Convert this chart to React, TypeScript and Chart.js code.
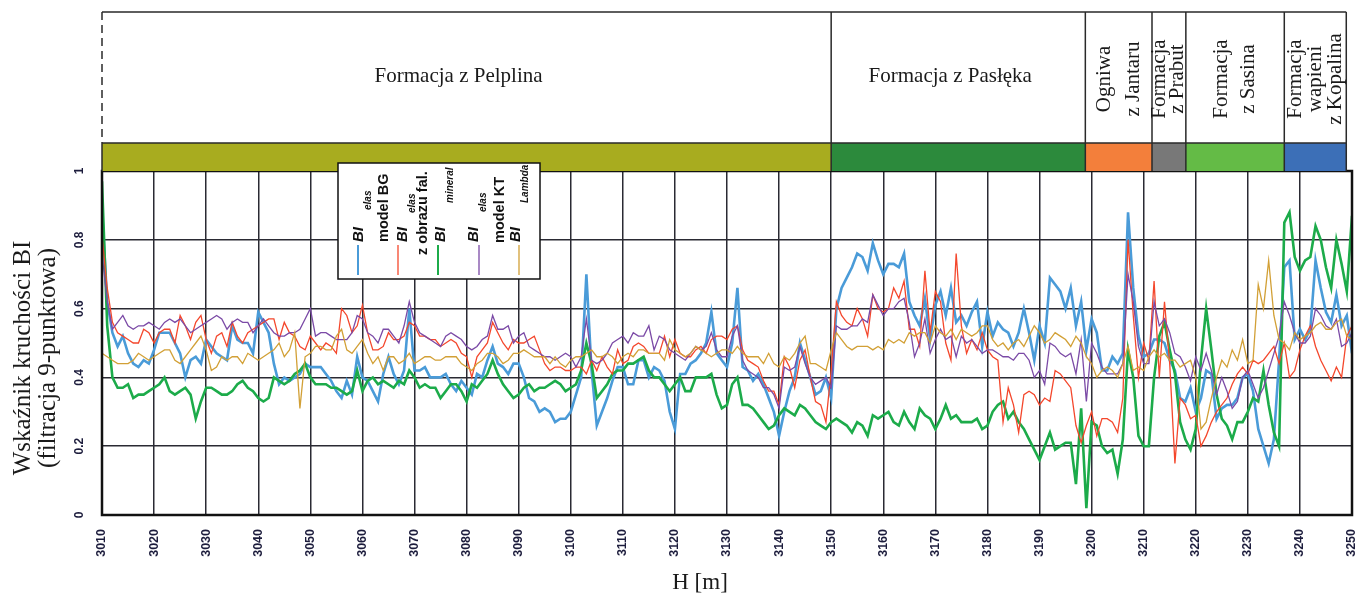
import React, { useEffect, useRef } from 'react';
import { Chart, registerables } from 'chart.js';

Chart.register(...registerables);

// ---------- DATA ----------
const depths = [
  3010, 3011, 3012, 3013, 3014, 3015, 3016, 3017, 3018, 3019,
  3020, 3021, 3022, 3023, 3024, 3025, 3026, 3027, 3028, 3029,
  3030, 3031, 3032, 3033, 3034, 3035, 3036, 3037, 3038, 3039,
  3040, 3041, 3042, 3043, 3044, 3045, 3046, 3047, 3048, 3049,
  3050, 3051, 3052, 3053, 3054, 3055, 3056, 3057, 3058, 3059,
  3060, 3061, 3062, 3063, 3064, 3065, 3066, 3067, 3068, 3069,
  3070, 3071, 3072, 3073, 3074, 3075, 3076, 3077, 3078, 3079,
  3080, 3081, 3082, 3083, 3084, 3085, 3086, 3087, 3088, 3089,
  3090, 3091, 3092, 3093, 3094, 3095, 3096, 3097, 3098, 3099,
  3100, 3101, 3102, 3103, 3104, 3105, 3106, 3107, 3108, 3109,
  3110, 3111, 3112, 3113, 3114, 3115, 3116, 3117, 3118, 3119,
  3120, 3121, 3122, 3123, 3124, 3125, 3126, 3127, 3128, 3129,
  3130, 3131, 3132, 3133, 3134, 3135, 3136, 3137, 3138, 3139,
  3140, 3141, 3142, 3143, 3144, 3145, 3146, 3147, 3148, 3149,
  3150, 3151, 3152, 3153, 3154, 3155, 3156, 3157, 3158, 3159,
  3160, 3161, 3162, 3163, 3164, 3165, 3166, 3167, 3168, 3169,
  3170, 3171, 3172, 3173, 3174, 3175, 3176, 3177, 3178, 3179,
  3180, 3181, 3182, 3183, 3184, 3185, 3186, 3187, 3188, 3189,
  3190, 3191, 3192, 3193, 3194, 3195, 3196, 3197, 3198, 3199,
  3200, 3201, 3202, 3203, 3204, 3205, 3206, 3207, 3208, 3209,
  3210, 3211, 3212, 3213, 3214, 3215, 3216, 3217, 3218, 3219,
  3220, 3221, 3222, 3223, 3224, 3225, 3226, 3227, 3228, 3229,
  3230, 3231, 3232, 3233, 3234, 3235, 3236, 3237, 3238, 3239,
  3240, 3241, 3242, 3243, 3244, 3245, 3246, 3247, 3248, 3249,
  3250,
];

const biElasModelBG = [
  0.89, 0.62, 0.53, 0.49, 0.52, 0.47, 0.44, 0.43, 0.45, 0.44,
  0.48, 0.53, 0.53, 0.53, 0.50, 0.47, 0.40, 0.45, 0.46, 0.44,
  0.51, 0.49, 0.47, 0.46, 0.45, 0.55, 0.51, 0.50, 0.50, 0.47,
  0.59, 0.56, 0.53, 0.44, 0.38, 0.40, 0.39, 0.40, 0.41, 0.44,
  0.43, 0.43, 0.43, 0.41, 0.39, 0.36, 0.34, 0.39, 0.35, 0.46,
  0.40, 0.39, 0.36, 0.33, 0.41, 0.46, 0.41, 0.38, 0.42, 0.60,
  0.42, 0.42, 0.43, 0.40, 0.40, 0.40, 0.41, 0.38, 0.36, 0.39,
  0.37, 0.35, 0.41, 0.40, 0.45, 0.49, 0.44, 0.43, 0.41, 0.44,
  0.44, 0.40, 0.34, 0.33, 0.30, 0.31, 0.30, 0.27, 0.28, 0.28,
  0.30, 0.35, 0.40, 0.70, 0.42, 0.26, 0.30, 0.34, 0.39, 0.43,
  0.43, 0.38, 0.38, 0.45, 0.45, 0.40, 0.43, 0.42, 0.39, 0.30,
  0.25, 0.41, 0.41, 0.44, 0.45, 0.47, 0.50, 0.59, 0.47, 0.45,
  0.43, 0.50, 0.66, 0.43, 0.42, 0.39, 0.41, 0.38, 0.34, 0.30,
  0.23, 0.30, 0.36, 0.40, 0.50, 0.45, 0.40, 0.35, 0.36, 0.40,
  0.34, 0.60, 0.66, 0.69, 0.72, 0.76, 0.75, 0.71, 0.79, 0.74,
  0.70, 0.73, 0.73, 0.72, 0.76, 0.62, 0.58, 0.55, 0.63, 0.51,
  0.61, 0.65, 0.58, 0.66, 0.56, 0.58, 0.55, 0.59, 0.62, 0.49,
  0.59, 0.52, 0.56, 0.54, 0.53, 0.49, 0.53, 0.60, 0.53, 0.45,
  0.55, 0.50, 0.69, 0.67, 0.65, 0.60, 0.66, 0.55, 0.62, 0.48,
  0.57, 0.53, 0.42, 0.42, 0.46, 0.44, 0.47, 0.88, 0.66, 0.52,
  0.46, 0.47, 0.51, 0.51, 0.50, 0.45, 0.42, 0.34, 0.33, 0.37,
  0.30, 0.34, 0.42, 0.41, 0.28, 0.31, 0.32, 0.32, 0.34, 0.40,
  0.41, 0.36, 0.25, 0.20, 0.15, 0.22, 0.45, 0.72, 0.74, 0.51,
  0.54, 0.51, 0.54, 0.74, 0.66, 0.59, 0.56, 0.64, 0.55, 0.58,
  0.47,
];

const biElasObrazFal = [
  0.81, 0.66, 0.56, 0.53, 0.52, 0.51, 0.50, 0.50, 0.54, 0.53,
  0.50, 0.53, 0.54, 0.54, 0.50, 0.58, 0.55, 0.51, 0.56, 0.58,
  0.51, 0.47, 0.52, 0.53, 0.49, 0.56, 0.52, 0.50, 0.53, 0.54,
  0.55, 0.56, 0.57, 0.57, 0.51, 0.56, 0.53, 0.52, 0.49, 0.48,
  0.52, 0.50, 0.48, 0.50, 0.49, 0.47, 0.60, 0.58, 0.53, 0.55,
  0.61, 0.53, 0.48, 0.48, 0.49, 0.53, 0.51, 0.51, 0.52, 0.56,
  0.55, 0.52, 0.52, 0.51, 0.51, 0.49, 0.50, 0.51, 0.50, 0.47,
  0.46, 0.40, 0.46, 0.48, 0.50, 0.56, 0.53, 0.50, 0.48, 0.51,
  0.50, 0.50, 0.51, 0.52, 0.48, 0.44, 0.42, 0.43, 0.43, 0.42,
  0.42, 0.43, 0.43, 0.41, 0.45, 0.42, 0.46, 0.43, 0.41, 0.48,
  0.44, 0.45, 0.49, 0.50, 0.49, 0.47, 0.47, 0.47, 0.52, 0.46,
  0.51, 0.47, 0.46, 0.46, 0.48, 0.49, 0.47, 0.51, 0.52, 0.52,
  0.51, 0.54, 0.55, 0.48, 0.45, 0.44, 0.43, 0.39, 0.36, 0.36,
  0.32, 0.46, 0.43, 0.37, 0.45, 0.48, 0.40, 0.33, 0.32, 0.27,
  0.42, 0.62, 0.58, 0.56, 0.55, 0.60, 0.57, 0.52, 0.64, 0.60,
  0.59, 0.60, 0.66, 0.63, 0.68, 0.54, 0.54, 0.49, 0.71, 0.53,
  0.65, 0.62, 0.50, 0.45, 0.76, 0.55, 0.47, 0.51, 0.48, 0.53,
  0.48, 0.46, 0.45, 0.27, 0.37, 0.32, 0.24, 0.35, 0.36, 0.35,
  0.32, 0.34, 0.33, 0.42, 0.41, 0.39, 0.37, 0.26, 0.21, 0.26,
  0.30, 0.23, 0.28, 0.28, 0.27, 0.24, 0.34, 0.80, 0.58, 0.40,
  0.50, 0.45, 0.68, 0.40, 0.62, 0.44, 0.15, 0.34, 0.32, 0.28,
  0.29, 0.20, 0.23, 0.27, 0.30, 0.32, 0.34, 0.38, 0.41, 0.43,
  0.41, 0.45, 0.44, 0.45, 0.47, 0.49, 0.44, 0.50, 0.40, 0.42,
  0.48, 0.52, 0.55, 0.49, 0.45, 0.42, 0.39, 0.43, 0.40, 0.52,
  0.55,
];

const biMineral = [
  0.97, 0.55, 0.40, 0.37, 0.37, 0.38, 0.34, 0.35, 0.35, 0.36,
  0.37, 0.38, 0.40, 0.36, 0.35, 0.36, 0.37, 0.35, 0.28, 0.33,
  0.37, 0.37, 0.36, 0.35, 0.35, 0.36, 0.38, 0.39, 0.37, 0.36,
  0.34, 0.33, 0.34, 0.40, 0.39, 0.38, 0.39, 0.41, 0.42, 0.44,
  0.40, 0.38, 0.38, 0.38, 0.37, 0.37, 0.36, 0.35, 0.36, 0.42,
  0.36, 0.39, 0.40, 0.38, 0.39, 0.38, 0.37, 0.39, 0.38, 0.42,
  0.40, 0.37, 0.38, 0.37, 0.37, 0.34, 0.36, 0.38, 0.38, 0.36,
  0.33, 0.38, 0.37, 0.39, 0.41, 0.45, 0.41, 0.38, 0.36, 0.34,
  0.35, 0.37, 0.38, 0.36, 0.37, 0.37, 0.38, 0.39, 0.38, 0.36,
  0.37, 0.38, 0.42, 0.50, 0.44, 0.34, 0.36, 0.38, 0.41, 0.42,
  0.42, 0.44, 0.44, 0.45, 0.46, 0.42, 0.40, 0.40, 0.38, 0.36,
  0.38, 0.40, 0.36, 0.36, 0.40, 0.40, 0.40, 0.41, 0.35, 0.31,
  0.32, 0.38, 0.40, 0.32, 0.32, 0.31, 0.29, 0.27, 0.25, 0.26,
  0.29, 0.31, 0.30, 0.29, 0.32, 0.31, 0.29, 0.27, 0.26, 0.25,
  0.27, 0.28, 0.27, 0.26, 0.24, 0.27, 0.26, 0.23, 0.29, 0.28,
  0.29, 0.30, 0.27, 0.26, 0.30, 0.27, 0.25, 0.31, 0.29, 0.28,
  0.25, 0.28, 0.32, 0.28, 0.29, 0.27, 0.27, 0.27, 0.28, 0.25,
  0.26, 0.30, 0.32, 0.33, 0.28, 0.30, 0.27, 0.25, 0.22, 0.19,
  0.16, 0.20, 0.24, 0.19, 0.20, 0.21, 0.21, 0.09, 0.31, 0.02,
  0.27, 0.26, 0.20, 0.18, 0.19, 0.12, 0.22, 0.48, 0.40, 0.23,
  0.20, 0.20, 0.40, 0.52, 0.56, 0.48, 0.41, 0.27, 0.22, 0.19,
  0.25, 0.45, 0.60, 0.48, 0.35, 0.28, 0.26, 0.22, 0.27, 0.27,
  0.30, 0.34, 0.33, 0.42, 0.32, 0.24, 0.20, 0.85, 0.88, 0.75,
  0.71, 0.74, 0.75, 0.84, 0.80, 0.72, 0.66, 0.80, 0.73, 0.65,
  0.87,
];

const biElasModelKT = [
  0.76, 0.62, 0.54, 0.56, 0.58, 0.55, 0.54, 0.55, 0.55, 0.56,
  0.55, 0.54, 0.56, 0.57, 0.56, 0.57, 0.55, 0.53, 0.54, 0.55,
  0.56, 0.57, 0.58, 0.57, 0.54, 0.56, 0.57, 0.56, 0.56, 0.53,
  0.55, 0.57, 0.55, 0.53, 0.52, 0.52, 0.53, 0.53, 0.54, 0.57,
  0.60, 0.52, 0.53, 0.53, 0.52, 0.51, 0.51, 0.51, 0.53, 0.58,
  0.57, 0.53, 0.52, 0.50, 0.54, 0.54, 0.52, 0.50, 0.55, 0.62,
  0.56, 0.53, 0.52, 0.51, 0.50, 0.49, 0.52, 0.53, 0.52, 0.51,
  0.49, 0.48, 0.49, 0.51, 0.52, 0.58, 0.54, 0.54, 0.55, 0.50,
  0.52, 0.53, 0.49, 0.48, 0.47, 0.46, 0.46, 0.45, 0.46, 0.47,
  0.46, 0.43, 0.46, 0.57, 0.45, 0.44, 0.45, 0.47, 0.50, 0.51,
  0.52, 0.50, 0.53, 0.52, 0.52, 0.55, 0.48, 0.52, 0.51, 0.48,
  0.47, 0.46, 0.45, 0.47, 0.49, 0.48, 0.49, 0.53, 0.48, 0.46,
  0.46, 0.52, 0.55, 0.45, 0.42, 0.41, 0.40, 0.37, 0.37, 0.35,
  0.31, 0.43, 0.42, 0.43, 0.49, 0.44, 0.40, 0.38, 0.39, 0.40,
  0.37, 0.55, 0.54, 0.54, 0.55, 0.55, 0.57, 0.56, 0.64, 0.61,
  0.58, 0.60, 0.60, 0.62, 0.63, 0.56, 0.46, 0.50, 0.57, 0.47,
  0.51, 0.54, 0.51, 0.52, 0.46, 0.52, 0.50, 0.51, 0.49, 0.47,
  0.48, 0.48, 0.47, 0.46, 0.46, 0.45, 0.47, 0.47, 0.45, 0.40,
  0.42, 0.38, 0.50, 0.49, 0.47, 0.46, 0.47, 0.41, 0.51, 0.33,
  0.50, 0.47, 0.43, 0.41, 0.41, 0.41, 0.44, 0.70, 0.62, 0.49,
  0.44, 0.44, 0.62, 0.55, 0.57, 0.53, 0.47, 0.46, 0.43, 0.39,
  0.46, 0.42, 0.47, 0.42, 0.35, 0.40, 0.36, 0.31, 0.33, 0.40,
  0.42, 0.38, 0.34, 0.37, 0.42, 0.47, 0.52, 0.62, 0.58, 0.53,
  0.50, 0.50, 0.52, 0.60, 0.58, 0.55, 0.54, 0.57, 0.49, 0.50,
  0.53,
];

const biLambda = [
  0.47, 0.46, 0.45, 0.44, 0.44, 0.44, 0.45, 0.47, 0.46, 0.45,
  0.46, 0.47, 0.48, 0.48, 0.45, 0.44, 0.46, 0.48, 0.50, 0.52,
  0.48, 0.42, 0.43, 0.46, 0.45, 0.46, 0.46, 0.44, 0.47, 0.46,
  0.45, 0.46, 0.47, 0.48, 0.50, 0.46, 0.48, 0.53, 0.31, 0.46,
  0.47, 0.49, 0.49, 0.48, 0.48, 0.52, 0.54, 0.48, 0.47, 0.49,
  0.51, 0.47, 0.44, 0.46, 0.42, 0.46, 0.46, 0.44, 0.45, 0.47,
  0.44, 0.45, 0.46, 0.46, 0.45, 0.45, 0.46, 0.46, 0.46, 0.44,
  0.43, 0.42, 0.44, 0.45, 0.47, 0.47, 0.46, 0.44, 0.45, 0.47,
  0.47, 0.48, 0.47, 0.46, 0.46, 0.46, 0.44, 0.46, 0.44, 0.43,
  0.45, 0.46, 0.46, 0.47, 0.48, 0.46, 0.46, 0.47, 0.46, 0.44,
  0.46, 0.47, 0.46, 0.48, 0.48, 0.47, 0.47, 0.47, 0.45, 0.51,
  0.48, 0.47, 0.46, 0.47, 0.49, 0.48, 0.47, 0.46, 0.47, 0.48,
  0.48, 0.47, 0.49, 0.47, 0.46, 0.46, 0.46, 0.44, 0.47, 0.44,
  0.43, 0.46, 0.45, 0.47, 0.50, 0.52, 0.44, 0.44, 0.43, 0.42,
  0.48, 0.53, 0.51, 0.49, 0.48, 0.49, 0.49, 0.49, 0.48, 0.49,
  0.48, 0.51, 0.50, 0.51, 0.50, 0.53, 0.52, 0.53, 0.53, 0.50,
  0.55, 0.53, 0.52, 0.54, 0.51, 0.54, 0.53, 0.52, 0.53, 0.55,
  0.55, 0.51, 0.49, 0.50, 0.48, 0.50, 0.51, 0.49, 0.52, 0.55,
  0.53, 0.50, 0.51, 0.53, 0.52, 0.51, 0.49, 0.52, 0.50, 0.46,
  0.44, 0.40, 0.42, 0.43, 0.42, 0.40, 0.44, 0.49, 0.42, 0.43,
  0.42, 0.46, 0.48, 0.46, 0.47, 0.45, 0.45, 0.43, 0.44, 0.45,
  0.40, 0.25, 0.27, 0.34, 0.40, 0.45, 0.43, 0.48, 0.45, 0.51,
  0.44, 0.45, 0.67, 0.60, 0.74, 0.58, 0.51, 0.50, 0.48, 0.53,
  0.51, 0.52, 0.53, 0.55, 0.56, 0.54, 0.54, 0.56, 0.57, 0.52,
  0.51,
];

const seriesLabels = [
  'BI elas model BG',
  'BI elas z obrazu fal.',
  'BI mineral',
  'BI elas model KT',
  'BI Lambda',
];
const legendMain = ['BI', 'BI', 'BI', 'BI', 'BI'];
const legendSub = ['elas', 'elas', 'mineral', 'elas', 'Lambda'];
const legendSecond = ['model BG', 'z obrazu fal.', '', 'model KT', ''];

const formationNames = [
  ['Formacja z Pelplina'],
  ['Formacja z Pasłęka'],
  ['Ogniwa', 'z Jantaru'],
  ['Formacja', 'z Prabut'],
  ['Formacja', 'z Sasina'],
  ['Formacja', 'wapieni', 'z Kopalina'],
];
const formationTop = [3010, 3150, 3198.8, 3211.6, 3218.1, 3237.0];
const formationBottom = [3150, 3198.8, 3211.6, 3218.1, 3237.0, 3248.9];

const xMin = 3010;
const xMax = 3250;
const xStep = 10;
const yMin = 0;
const yMax = 1;
const yStep = 0.2;

const yAxisTitle = ['Wskaźnik kruchości BI', '(filtracja 9-punktowa)'];
const xAxisTitle = 'H [m]';

// ---------- STYLES ----------
const seriesColors = ['#4a9bd8', '#f4472c', '#1cab4a', '#7b4aa6', '#d2a036'];
const seriesWidths = [2.6, 1.3, 2.6, 1.3, 1.3];
const seriesOrder = [5, 3, 4, 2, 1];
const formationColors = ['#a8ac1f', '#2c8a3c', '#f37f3b', '#787878', '#64bb46', '#3c6fb7'];
const formationLineGap = [0, 0, 29, 18, 27, 20];

const SERIF = '"Liberation Serif", "Times New Roman", serif';
const SANS = '"Liberation Sans", Arial, sans-serif';

function rotText(ctx: CanvasRenderingContext2D, text: string, x: number, y: number, align: CanvasTextAlign, baseline: CanvasTextBaseline) {
  ctx.save();
  ctx.translate(x, y);
  ctx.rotate(-Math.PI / 2);
  ctx.textAlign = align;
  ctx.textBaseline = baseline;
  ctx.fillText(text, 0, 0);
  ctx.restore();
}

const decorPlugin = {
  id: 'decor',
  afterDatasetsDraw(chart: any) {
    const { ctx, chartArea: a } = chart;
    ctx.save();
    ctx.strokeStyle = '#111';
    ctx.lineWidth = 2.5;
    ctx.strokeRect(a.left, a.top, a.right - a.left, a.bottom - a.top);
    ctx.restore();
  },
  afterDraw(chart: any) {
    const { ctx, chartArea: a } = chart;
    const xs = chart.scales.x;
    const ys = chart.scales.y;

    // ---- formation band ----
    const top = 12;
    const mid = 143;
    const bot = a.top;
    ctx.save();
    for (let i = 0; i < formationNames.length; i++) {
      const x0 = xs.getPixelForValue(formationTop[i]);
      const x1 = xs.getPixelForValue(formationBottom[i]);
      ctx.fillStyle = formationColors[i];
      ctx.fillRect(x0, mid, x1 - x0, bot - mid);
    }
    ctx.strokeStyle = '#2a2a2a';
    ctx.lineWidth = 1.5;
    const xl = xs.getPixelForValue(formationTop[0]);
    const xr = xs.getPixelForValue(formationBottom[formationBottom.length - 1]);
    ctx.beginPath();
    ctx.moveTo(xl, top); ctx.lineTo(xr, top);
    ctx.moveTo(xl, mid); ctx.lineTo(xr, mid);
    ctx.moveTo(xr, top); ctx.lineTo(xr, bot);
    ctx.moveTo(xl, mid); ctx.lineTo(xl, bot);
    for (let i = 1; i < formationNames.length; i++) {
      const x0 = xs.getPixelForValue(formationTop[i]);
      ctx.moveTo(x0, top); ctx.lineTo(x0, bot);
    }
    ctx.stroke();
    ctx.setLineDash([8, 5]);
    ctx.beginPath();
    ctx.moveTo(xl, top); ctx.lineTo(xl, mid);
    ctx.stroke();
    ctx.setLineDash([]);

    ctx.fillStyle = '#1a1a1a';
    ctx.font = `21px ${SERIF}`;
    for (let i = 0; i < formationNames.length; i++) {
      const x0 = xs.getPixelForValue(formationTop[i]);
      const x1 = xs.getPixelForValue(formationBottom[i]);
      const cx = (x0 + x1) / 2;
      const lines = formationNames[i];
      if (lines.length === 1) {
        ctx.textAlign = 'center';
        ctx.textBaseline = 'middle';
        ctx.fillText(lines[0], cx - 8, 76);
      } else {
        const g = formationLineGap[i];
        for (let j = 0; j < lines.length; j++) {
          const lx = cx + (j - (lines.length - 1) / 2) * g;
          rotText(ctx, lines[j], lx, 79, 'center', 'middle');
        }
      }
    }
    ctx.restore();

    // ---- y tick labels ----
    ctx.save();
    ctx.fillStyle = '#1c1c3c';
    ctx.font = `bold 12px ${SANS}`;
    for (const t of ys.ticks) {
      const v = Math.round(t.value * 10) / 10;
      const py = ys.getPixelForValue(t.value);
      rotText(ctx, String(v), 80, py, 'center', 'middle');
    }
    ctx.restore();

    // ---- axis titles ----
    ctx.save();
    ctx.fillStyle = '#1a1a1a';
    ctx.font = `25px ${SERIF}`;
    rotText(ctx, yAxisTitle[0], 23, 358, 'center', 'middle');
    rotText(ctx, yAxisTitle[1], 48, 358, 'center', 'middle');
    ctx.font = `23px ${SERIF}`;
    ctx.textAlign = 'center';
    ctx.textBaseline = 'middle';
    ctx.fillText(xAxisTitle, 700, 583);
    ctx.restore();

    // ---- legend ----
    const L = a.left + 236;
    const T = a.top - 8;
    const W = 202;
    const H = 116;
    ctx.save();
    ctx.fillStyle = '#ffffff';
    ctx.fillRect(L, T, W, H);
    ctx.strokeStyle = '#111';
    ctx.lineWidth = 1.5;
    ctx.strokeRect(L, T, W, H);
    const lineX = [20, 60, 100, 141, 181];
    const mainX = [25, 69, 107, 140, 182];
    const subY = [47, 50, 40, 49, 40];
    const secX = [50, 89, 0, 166, 0];
    const secY = [79, 92, 0, 80, 0];
    const dsets = chart.data.datasets;
    for (let i = 0; i < dsets.length; i++) {
      ctx.strokeStyle = dsets[i].borderColor;
      ctx.lineWidth = Math.min(dsets[i].borderWidth, 2);
      ctx.beginPath();
      ctx.moveTo(L + lineX[i], T + 82);
      ctx.lineTo(L + lineX[i], T + 112);
      ctx.stroke();
      ctx.fillStyle = '#111';
      ctx.font = `italic bold 15px ${SANS}`;
      rotText(ctx, legendMain[i], L + mainX[i], T + 79, 'left', 'alphabetic');
      ctx.font = `italic bold 10px ${SANS}`;
      rotText(ctx, legendSub[i], L + mainX[i] + 8, T + subY[i], 'left', 'alphabetic');
      if (legendSecond[i]) {
        ctx.font = `bold 14.5px ${SANS}`;
        rotText(ctx, legendSecond[i], L + secX[i], T + secY[i], 'left', 'alphabetic');
      }
    }
    ctx.restore();
  },
};

function toPoints(values: number[]) {
  return depths.map((d, i) => ({ x: d, y: values[i] }));
}

export default function App() {
  const canvasRef = useRef<HTMLCanvasElement | null>(null);

  useEffect(() => {
    if (!canvasRef.current) return;
    const allSeries = [biElasModelBG, biElasObrazFal, biMineral, biElasModelKT, biLambda];
    const chart = new Chart(canvasRef.current, {
      type: 'line',
      data: {
        datasets: allSeries.map((s, i) => ({
          label: seriesLabels[i],
          data: toPoints(s),
          borderColor: seriesColors[i],
          backgroundColor: seriesColors[i],
          borderWidth: seriesWidths[i],
          pointRadius: 0,
          tension: 0,
          fill: false,
          order: seriesOrder[i],
        })),
      },
      options: {
        responsive: false,
        animation: false,
        events: [],
        layout: { padding: { top: 171, right: 6, left: 0, bottom: 0 } },
        plugins: {
          legend: { display: false },
          tooltip: { enabled: false },
        },
        scales: {
          x: {
            type: 'linear',
            min: xMin,
            max: xMax,
            afterFit: (scale: any) => {
              scale.height = 79;
              scale.paddingLeft = 0;
              scale.paddingRight = 0;
            },
            ticks: {
              stepSize: xStep,
              autoSkip: false,
              minRotation: 90,
              maxRotation: 90,
              padding: 14,
              color: '#1c1c3c',
              font: { family: SANS, weight: 'bold', size: 12.5 },
              callback: (v: any) => String(v),
            },
            grid: { color: '#2a2a33', lineWidth: 1.5, drawTicks: false },
            border: { display: false },
          },
          y: {
            type: 'linear',
            min: yMin,
            max: yMax,
            afterFit: (scale: any) => {
              scale.width = 102;
              scale.paddingTop = 0;
              scale.paddingBottom = 0;
            },
            ticks: { stepSize: yStep, display: false },
            grid: { color: '#2a2a33', lineWidth: 1.5, drawTicks: false },
            border: { display: false },
          },
        },
      },
      plugins: [decorPlugin],
    } as any);
    return () => chart.destroy();
  }, []);

  return (
    <div style={{ position: 'absolute', left: 0, top: 0, width: 1358, height: 594, background: '#fff' }}>
      <canvas ref={canvasRef} width={1358} height={594} style={{ display: 'block' }} />
    </div>
  );
}
